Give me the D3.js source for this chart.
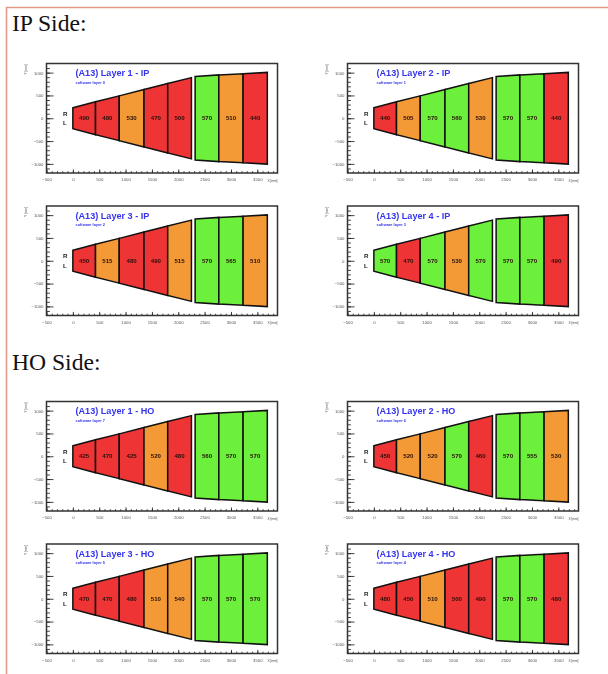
<!DOCTYPE html>
<html>
<head>
  <meta charset="utf-8">
  <script src="https://d3js.org/d3.v7.min.js"></script>
  <style>
    html, body { margin: 0; padding: 0; background: white; }
    svg { display: block; }
    #charts { filter: blur(0.4px); }
    .small { font-family: "Liberation Sans", sans-serif; }
  </style>
</head>
<body>
<svg id="page" width="608" height="674"></svg>
<script>
// chamber edges along X [mm] and half height at each edge [mm]
var innerEdges = [0, 430, 880, 1350, 1800, 2250];
var innerHalf  = [230, 360, 490, 630, 760, 890];
var outerEdges = [2320, 2770, 3230, 3690];
var outerHalf  = [915, 950, 975, 1005];

var layerNames = ["Layer 1", "Layer 2", "Layer 3", "Layer 4"];
var ipSoftware = [0, 1, 2, 3];
var hoSoftware = [7, 6, 5, 4];

var ipLayer1 = [490, 480, 530, 470, 500, 570, 510, 440];
var ipLayer2 = [440, 505, 570, 560, 530, 570, 570, 440];
var ipLayer3 = [450, 515, 480, 490, 515, 570, 565, 510];
var ipLayer4 = [570, 470, 570, 530, 570, 570, 570, 490];
var hoLayer1 = [425, 470, 425, 520, 480, 560, 570, 570];
var hoLayer2 = [450, 520, 520, 570, 460, 570, 555, 530];
var hoLayer3 = [470, 470, 480, 510, 540, 570, 570, 570];
var hoLayer4 = [480, 450, 510, 500, 490, 570, 570, 480];

var xMajor = [-500, 0, 500, 1000, 1500, 2000, 2500, 3000, 3500];
var yMajor = [-1000, -500, 0, 500, 1000];

// red up to 500, orange up to 540, green above
var colour = d3.scaleThreshold().domain([503, 548]).range(["#ee3434", "#f39a36", "#6df03c"]);

var panelW = 231, panelH = 109.5;
var scX = d3.scaleLinear().domain([-500, 3883]).range([0, panelW]);
var scY = d3.scaleLinear().domain([-1200, 1200]).range([panelH, 0]);

var svg = d3.select("#page");

// page border
svg.append("path").attr("d", "M6.5,674V7.5H608")
  .attr("fill", "none").attr("stroke", "#e39a88").attr("stroke-width", 1.6);

function heading(txt, y) {
  svg.append("text").attr("x", 12).attr("y", y).text(txt)
    .attr("font-family", "'Liberation Serif', serif").attr("font-size", 23.6).attr("fill", "#111");
}
heading("IP Side:", 31);
heading("HO Side:", 370);

var charts = svg.append("g").attr("id", "charts");
var chamberLine = d3.line().x(d => scX(d[0])).y(d => scY(d[1]));
var plain = d3.format("d");

function drawPanel(left, top, name, software, vals) {
  var g = charts.append("g").attr("transform", "translate(" + left + "," + top + ")");

  var minor = d3.range(-500, 3850, 100);
  var minorY = d3.range(-1100, 1200, 100);

  // ROOT style ticks, all inside the frame
  var xMinor = d3.axisBottom(scX).tickValues(minor).tickSize(-1.8).tickFormat("");
  var xAxis = d3.axisBottom(scX).tickValues(xMajor).tickSize(-3.6).tickPadding(5).tickFormat(plain);
  var yMinor = d3.axisLeft(scY).tickValues(minorY).tickSize(-3.4).tickFormat("");
  var yAxis = d3.axisLeft(scY).tickValues(yMajor).tickSize(-7).tickPadding(3).tickFormat(plain);

  [[xMinor, 0, panelH], [xAxis, 0, panelH], [yMinor, 0, 0], [yAxis, 0, 0]].forEach(function (a) {
    var ag = g.append("g").attr("transform", "translate(" + a[1] + "," + a[2] + ")").call(a[0]);
    ag.select(".domain").remove();
    ag.selectAll("line").attr("stroke", "#111").attr("stroke-width", 0.8);
    ag.selectAll("text").attr("class", "small").attr("font-size", 4.3).attr("fill", "#555");
  });

  g.append("rect").attr("width", panelW).attr("height", panelH)
    .attr("fill", "none").attr("stroke", "#333").attr("stroke-width", 1.5);

  // one polygon per chamber, inner five then outer three
  var cells = [];
  [[innerEdges, innerHalf], [outerEdges, outerHalf]].forEach(function (s) {
    for (var i = 0; i < s[0].length - 1; i++) {
      cells.push([[s[0][i], s[1][i]], [s[0][i + 1], s[1][i + 1]],
                  [s[0][i + 1], -s[1][i + 1]], [s[0][i], -s[1][i]]]);
    }
  });

  g.selectAll("path.cell").data(cells).enter().append("path")
    .attr("class", "cell")
    .attr("d", d => chamberLine(d) + "Z")
    .attr("fill", (d, i) => colour(vals[i]))
    .attr("stroke", "#111").attr("stroke-width", 1.5).attr("stroke-linejoin", "miter");

  g.selectAll("text.val").data(cells).enter().append("text")
    .attr("class", "val small")
    .attr("x", d => scX((d[0][0] + d[1][0]) / 2))
    .attr("y", scY(0))
    .attr("dy", "0.35em")
    .attr("text-anchor", "middle").attr("font-size", 6.1).attr("font-weight", "bold")
    .attr("fill", "#2a100c")
    .text((d, i) => vals[i]);

  function label(x, y, txt, size, bold, fill) {
    return g.append("text").attr("class", "small").attr("x", x).attr("y", y).text(txt)
      .attr("font-size", size).attr("font-weight", bold ? "bold" : "normal").attr("fill", fill);
  }
  label(29, 12.8, "(A13) " + name, 9.1, true, "#3434ee");
  label(29, 20, "software layer " + software, 3.9, true, "#3434ee");
  label(16.5, 52, "R", 6.2, true, "#222");
  label(16.5, 61.5, "L", 6.2, true, "#222");
  label(panelW, panelH + 8.5, "X [mm]", 3.2, false, "#444").attr("text-anchor", "end");
  label(0, 0, "Y [mm]", 3.2, false, "#444")
    .attr("text-anchor", "end")
    .attr("transform", "translate(-20,1) rotate(-90)");
}

var leftCol = 46.5, rightCol = 347.5;
drawPanel(leftCol, 63.5, layerNames[0] + " - IP", ipSoftware[0], ipLayer1);
drawPanel(rightCol, 63.5, layerNames[1] + " - IP", ipSoftware[1], ipLayer2);
drawPanel(leftCol, 206, layerNames[2] + " - IP", ipSoftware[2], ipLayer3);
drawPanel(rightCol, 206, layerNames[3] + " - IP", ipSoftware[3], ipLayer4);
drawPanel(leftCol, 401.5, layerNames[0] + " - HO", hoSoftware[0], hoLayer1);
drawPanel(rightCol, 401.5, layerNames[1] + " - HO", hoSoftware[1], hoLayer2);
drawPanel(leftCol, 544, layerNames[2] + " - HO", hoSoftware[2], hoLayer3);
drawPanel(rightCol, 544, layerNames[3] + " - HO", hoSoftware[3], hoLayer4);
</script>
</body>
</html>
